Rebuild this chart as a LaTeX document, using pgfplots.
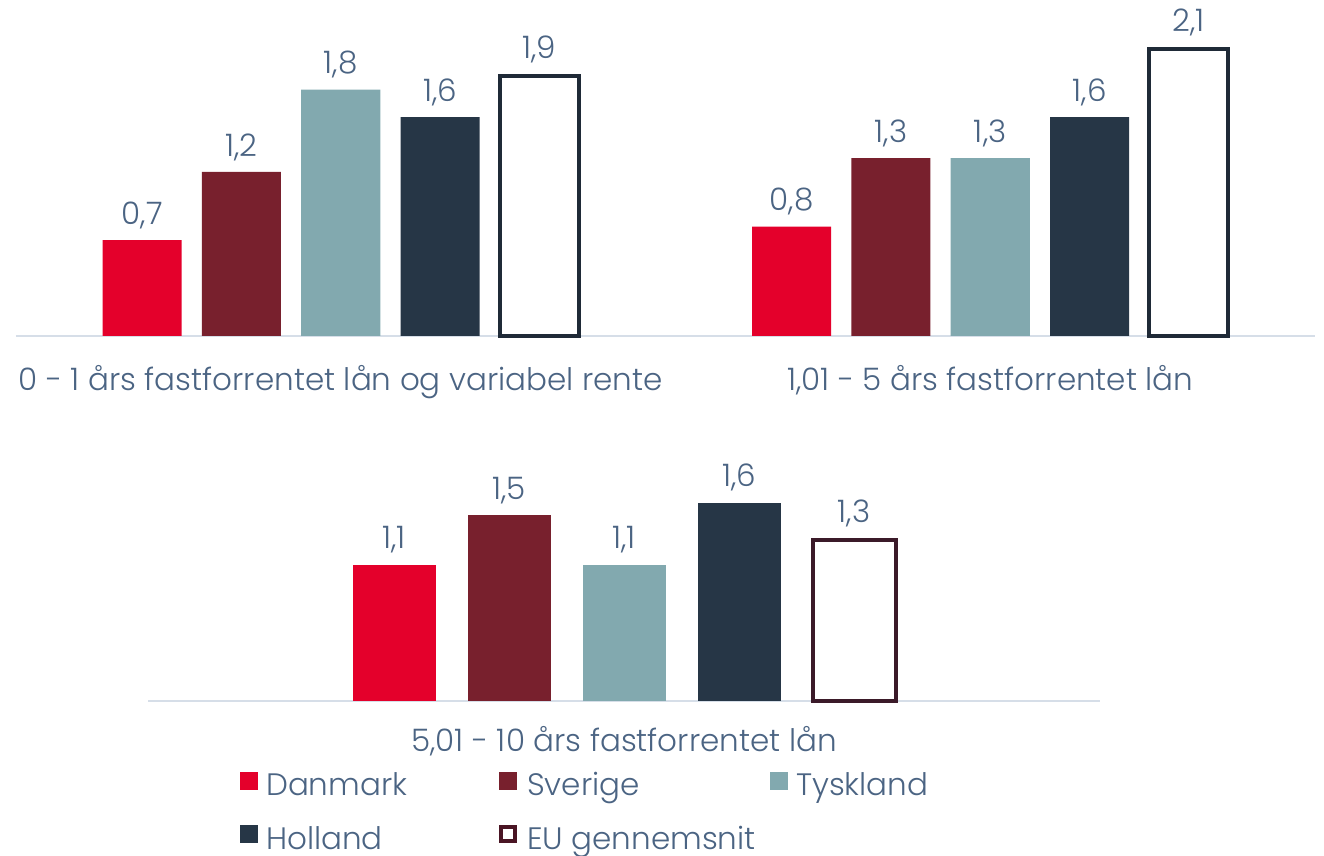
\documentclass[border=0pt]{standalone}
\usepackage{fontspec}
\setmainfont{Poppins}[UprightFont=* Light]
\usepackage{pgfplots}
\usepackage{pgfplotstable}
\pgfplotsset{compat=1.18}
\definecolor{cDK}{HTML}{E4002B}
\definecolor{cSE}{HTML}{78202D}
\definecolor{cDE}{HTML}{82A9AF}
\definecolor{cNL}{HTML}{263646}
\definecolor{cEUa}{HTML}{1F2A37}
\definecolor{cEUb}{HTML}{3B1A29}
\definecolor{cEUleg}{HTML}{4A1524}
\definecolor{cText}{HTML}{4B6483}
\definecolor{cAxis}{HTML}{D6DEE8}
\pgfplotstableread{
g DK SE DE NL EU
0 0.7 1.2 1.8 1.6 1.9
1 0.8 1.3 1.3 1.6 2.1
}\datatop
\pgfplotstableread{
g DK SE DE NL EU
0 1.1 1.5 1.1 1.6 1.3
}\databot
\newcommand{\fs}{\fontsize{31}{36}\selectfont}
\pgfplotsset{
  common/.style={
    scale only axis, clip=false,
    ymin=0,
    axis line style={draw=none},
    tick style={draw=none},
    ytick=\empty,
    xtick=data,
    ticklabel style={font=\fs, text=cText},
    xticklabel style={anchor=base, yshift=-50pt},
    /pgf/number format/.cd, use comma, fixed, fixed zerofill, precision=1, assume math mode=true,
    /pgfplots/.cd,
    nodes near coords,
    every node near coord/.append style={font=\fs, text=cText, inner sep=0pt, yshift=11pt},
  },
}
\begin{document}
\begin{tikzpicture}[x=1pt,y=1pt]
\path[use as bounding box] (0,0) rectangle (1324,855);
\begin{axis}[common,
  at={(16pt,519pt)}, anchor=south west,
  width=1299pt, height=301pt,
  xmin=-0.5, xmax=1.5, ymax=2.2,
  ybar=20.3pt, bar width=79pt,
  xticklabels={{0 - 1 års fastforrentet lån og variabel rente},{1,01 - 5 års fastforrentet lån}},
]
\draw[cAxis, line width=2pt] (rel axis cs:0,0) -- (rel axis cs:1,0);
\addplot[fill=cDK, draw=none] table[x=g,y=DK]{\datatop};
\addplot[fill=cSE, draw=none] table[x=g,y=SE]{\datatop};
\addplot[fill=cDE, draw=none] table[x=g,y=DE]{\datatop};
\addplot[fill=cNL, draw=none] table[x=g,y=NL]{\datatop};
\addplot[fill=white, draw=cEUa, line width=4pt] table[x=g,y=EU]{\datatop};
\end{axis}
\begin{axis}[common,
  at={(148pt,154pt)}, anchor=south west,
  width=952pt, height=210.8pt,
  xmin=-0.5, xmax=0.5, ymax=1.7,
  ybar=32pt, bar width=83pt,
  xtick={0}, xticklabels={{5,01 - 10 års fastforrentet lån},{}},
  xticklabel style={yshift=4pt},
  legend image code/.code={\path[draw opacity=0, fill opacity=0] (0pt,-5pt) rectangle (24pt,21pt);\fill[#1] (0pt,-5pt) rectangle (18pt,13pt);},
  legend columns=3,
  legend style={draw=none, fill=none, inner sep=0pt, column sep=0pt, row sep=16pt,
    at={(axis description cs:0.0966,-0.298)}, anchor=north west,
    font=\fs, text=cText, cells={anchor=west}},
]
\draw[cAxis, line width=2pt] (rel axis cs:0,0) -- (rel axis cs:1,0);
\addplot[fill=cDK, draw=none] table[x=g,y=DK]{\databot};
\addlegendentry{\makebox[229pt][l]{\rule[-8pt]{0pt}{31pt}Danmark}}
\addplot[fill=cSE, draw=none] table[x=g,y=SE]{\databot};
\addlegendentry{\makebox[241pt][l]{\rule[-8pt]{0pt}{31pt}Sverige}}
\addplot[fill=cDE, draw=none] table[x=g,y=DE]{\databot};
\addlegendentry{\rule[-8pt]{0pt}{31pt}Tyskland}
\addplot[fill=cNL, draw=none] table[x=g,y=NL]{\databot};
\addlegendentry{\makebox[229pt][l]{\rule[-8pt]{0pt}{31pt}Holland}}
\addplot[fill=white, draw=cEUb, line width=4pt,
  legend image code/.code={\path[draw opacity=0, fill opacity=0] (0pt,-5pt) rectangle (24pt,21pt);\draw[fill=white, draw=cEUleg, line width=4pt] (2pt,-3pt) rectangle (16pt,11pt);}] table[x=g,y=EU]{\databot};
\addlegendentry{\makebox[241pt][l]{\rule[-8pt]{0pt}{31pt}EU gennemsnit}}
\end{axis}
\end{tikzpicture}
\end{document}
